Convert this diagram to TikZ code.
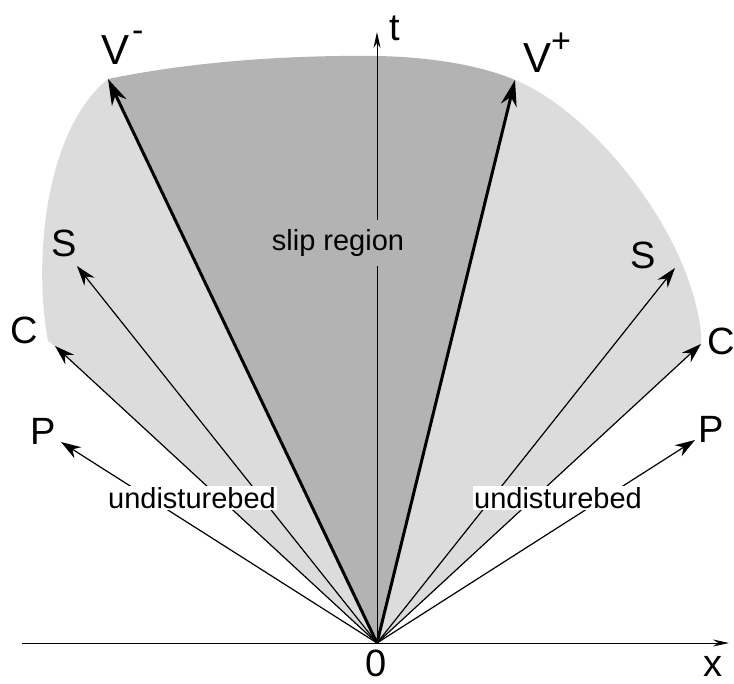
\documentclass[tikz,border=0pt]{standalone}
\usepackage{fontspec}
\setmainfont{Liberation Sans}
\usetikzlibrary{arrows.meta}
\definecolor{darkreg}{RGB}{179,179,179}
\definecolor{lightreg}{RGB}{220,220,220}
\newcommand{\supsign}[2]{\raisebox{#1}{\fontsize{34}{34}\selectfont #2}}
\begin{document}
\begin{tikzpicture}[x=1pt,y=-1pt,
  thinarrow/.style={line width=1.2pt,-{Stealth[length=20pt,width=13pt]}},
  thickarrow/.style={line width=3pt,-{Stealth[length=26pt,width=16pt]}},
  axisarrow/.style={line width=1pt,-{Stealth[length=16pt,width=7pt]}},
  biglabel/.style={font=\fontsize{38}{44}\selectfont,inner sep=0pt},
  smalllabel/.style={font=\fontsize{29}{34}\selectfont,inner sep=2pt}]
\useasboundingbox (0,0) rectangle (734,684);
\coordinate (O) at (377,643);
\coordinate (Vm) at (108,79);
\coordinate (Vp) at (515,80);
\coordinate (Sl) at (77,266);
\coordinate (Sr) at (675,268);
\coordinate (Cl) at (55,346);
\coordinate (Cr) at (701,344);
\coordinate (Pl) at (61,442);
\coordinate (Pr) at (695,440);
\coordinate (xl) at (22,643);
\coordinate (xr) at (729,643);
\coordinate (tt) at (377,32);
% regions
\fill[lightreg] (O) -- (Cl) -- (48,341) .. controls (33,260) and (45,130) .. (Vm) -- cycle;
\fill[lightreg] (O) -- (Vp) .. controls (590,110) and (690,230) .. (701,333) -- (Cr) -- cycle;
\fill[darkreg] (O) -- (Vm) .. controls (200,60) and (300,55) .. (377,56) .. controls (430,57) and (480,65) .. (Vp) -- cycle;
% axes
\draw[axisarrow] (xl) -- (xr);
\draw[axisarrow] (O) -- (tt);
% rays
\draw[thinarrow] (O) -- (Pl);
\draw[thinarrow] (O) -- (Cl);
\draw[thinarrow] (O) -- (Sl);
\draw[thinarrow] (O) -- (Pr);
\draw[thinarrow] (O) -- (Cr);
\draw[thinarrow] (O) -- (Sr);
\draw[thickarrow] (O) -- (Vm);
\draw[thickarrow] (O) -- (Vp);
% labels
\node[biglabel,anchor=base west] (lVm) at (101,65) {\fontsize{42}{48}\selectfont V\hspace{3pt}\supsign{23pt}{-}};
\node[biglabel,anchor=base west] (lVp) at (523,73) {\fontsize{42}{48}\selectfont V\hspace{0pt}\supsign{20pt}{+}};
\node[biglabel] (lt) at (395,28) {t};
\node[biglabel] (lSl) at (64,243) {S};
\node[biglabel] (lSr) at (643,255) {S};
\node[biglabel] (lCl) at (24,330) {C};
\node[biglabel] (lCr) at (721,341) {C};
\node[biglabel] (lPl) at (43,431) {P};
\node[biglabel] (lPr) at (711,429) {P};
\node[biglabel,anchor=base] (l0) at (376,676) {0};
\node[biglabel,anchor=base] (lx) at (713,676) {x};
\node[smalllabel,fill=darkreg,inner ysep=9pt] (slip) at (338,243) {slip region};
\node[smalllabel,fill=white,inner sep=1pt] (ul) at (192,498) {undisturebed};
\node[smalllabel,fill=white,inner sep=1pt] (ur) at (558,498) {undisturebed};
\end{tikzpicture}
\end{document}
